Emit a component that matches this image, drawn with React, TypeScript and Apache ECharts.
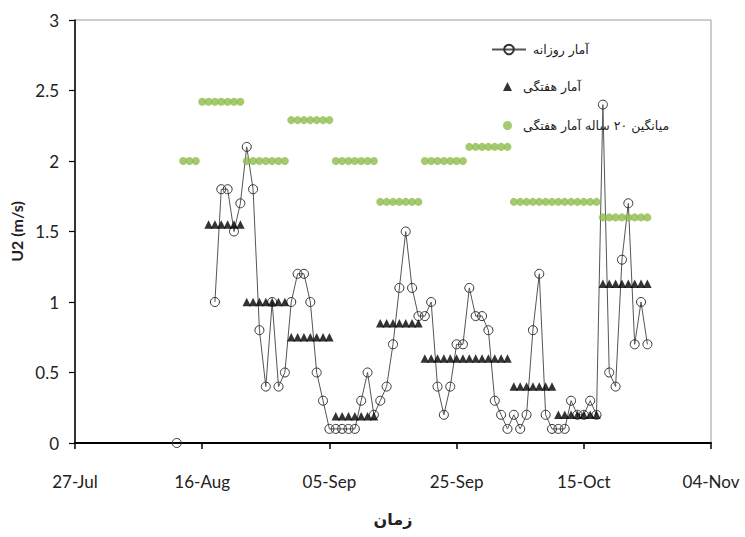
import React, { useEffect, useRef } from "react";
import * as echarts from "echarts";

// Calendar origin of the time axis (day 0 = 27 July)
const AXIS_ORIGIN = "2013-07-27";
const AXIS_SPAN_DAYS = 100;
const AXIS_STEP_DAYS = 20;

// Daily wind speed U2 (m/s), one value per day from dailyStart; null = no reading
const dailyStart = "2013-08-12";
const dailyU2 = [
  0, null, null, null, null, null,
  1.0, 1.8, 1.8, 1.5, 1.7, 2.1, 1.8, 0.8, 0.4, 1.0, 0.4, 0.5, 1.0, 1.2, 1.2, 1.0, 0.5, 0.3,
  0.1, 0.1, 0.1, 0.1, 0.1, 0.3, 0.5, 0.2, 0.3, 0.4, 0.7, 1.1, 1.5, 1.1, 0.9, 0.9, 1.0, 0.4,
  0.2, 0.4, 0.7, 0.7, 1.1, 0.9, 0.9, 0.8, 0.3, 0.2, 0.1, 0.2, 0.1, 0.2, 0.8, 1.2, 0.2, 0.1,
  0.1, 0.1, 0.3, 0.2, 0.2, 0.3, 0.2, 2.4, 0.5, 0.4, 1.3, 1.7, 0.7, 1.0, 0.7,
];

// Weekly statistics for the same season (first day, last day, value)
const weeklyFrom = ["2013-08-17", "2013-08-23", "2013-08-30", "2013-09-06", "2013-09-13", "2013-09-20", "2013-10-04", "2013-10-11", "2013-10-18"];
const weeklyTo = ["2013-08-22", "2013-08-29", "2013-09-05", "2013-09-12", "2013-09-19", "2013-10-03", "2013-10-10", "2013-10-17", "2013-10-25"];
const weeklyU2 = [1.55, 1.0, 0.75, 0.19, 0.85, 0.6, 0.4, 0.2, 1.13];

// 20-year mean of the weekly statistics
const meanFrom = ["2013-08-13", "2013-08-16", "2013-08-23", "2013-08-30", "2013-09-06", "2013-09-13", "2013-09-20", "2013-09-27", "2013-10-04", "2013-10-18"];
const meanTo = ["2013-08-15", "2013-08-22", "2013-08-29", "2013-09-05", "2013-09-12", "2013-09-19", "2013-09-26", "2013-10-03", "2013-10-17", "2013-10-25"];
const meanU2 = [2.0, 2.42, 2.0, 2.29, 2.0, 1.71, 2.0, 2.1, 1.71, 1.6];

const seriesNames = ["آمار روزانه", "آمار هفتگی", "میانگین ۲۰ ساله آمار هفتگی"];
const axisTitleX = "زمان";
const axisTitleY = "U2 (m/s)";
const monthNames = ["Jan", "Feb", "Mar", "Apr", "May", "Jun", "Jul", "Aug", "Sep", "Oct", "Nov", "Dec"];

const DAY_MS = 86400000;
const originMs = Date.parse(AXIS_ORIGIN + "T00:00:00Z");
const dayIndex = (iso: string) => Math.round((Date.parse(iso + "T00:00:00Z") - originMs) / DAY_MS);

const tickLabel = (day: number) => {
  const d = new Date(originMs + day * DAY_MS);
  const dd = String(d.getUTCDate()).padStart(2, "0");
  return `${dd}-${monthNames[d.getUTCMonth()]}`;
};

// one mark per day of each block
const expandBlocks = (from: string[], to: string[], vals: number[]) => {
  const out: [number, number][] = [];
  from.forEach((f, i) => {
    for (let d = dayIndex(f); d <= dayIndex(to[i]); d++) out.push([d, vals[i]]);
  });
  return out;
};

export default function App() {
  const ref = useRef<HTMLDivElement>(null);

  useEffect(() => {
    if (!ref.current) return;
    const chart = echarts.init(ref.current, null, { renderer: "svg" });
    const d0 = dayIndex(dailyStart);
    const dailyData = dailyU2.map((v, i) => [d0 + i, v === null ? "-" : v]);
    const weeklyData = expandBlocks(weeklyFrom, weeklyTo, weeklyU2);
    const meanData = expandBlocks(meanFrom, meanTo, meanU2);

    const labelFont = { fontFamily: "Lato", fontSize: 17, color: "#222" };
    const persianFont = { fontFamily: "DejaVu Sans", fontSize: 12.5, color: "#222" };

    chart.setOption({
      animation: false,
      backgroundColor: "#fff",
      grid: { left: 75, right: 34, top: 20, bottom: 94, show: true, borderColor: "#9a9a9a", borderWidth: 1 },
      legend: [
        { data: [seriesNames[0]], left: 486, top: 38, itemWidth: 34, itemHeight: 12, selectedMode: false, textStyle: { ...persianFont, padding: [0, 0, 0, 2] } },
        { data: [seriesNames[1]], left: 498, top: 75, itemWidth: 9, itemHeight: 9, selectedMode: false, textStyle: { ...persianFont, padding: [0, 0, 0, 6] } },
        { data: [seriesNames[2]], left: 498, top: 114, itemWidth: 9, itemHeight: 9, selectedMode: false, textStyle: { ...persianFont, padding: [0, 0, 0, 6] } },
      ],
      xAxis: {
        type: "value",
        min: 0,
        max: AXIS_SPAN_DAYS,
        interval: AXIS_STEP_DAYS,
        splitLine: { show: false },
        axisLine: { show: true, onZero: false, lineStyle: { color: "#000", width: 2 } },
        axisTick: { show: true, length: 6, lineStyle: { color: "#000", width: 1.5 } },
        axisLabel: { ...labelFont, margin: 30, formatter: (v: number) => tickLabel(v) },
        name: axisTitleX,
        nameLocation: "middle",
        nameGap: 68,
        nameTextStyle: { fontFamily: "DejaVu Sans", fontSize: 16, fontWeight: "bold", color: "#222" },
      },
      yAxis: {
        type: "value",
        min: 0,
        max: 3,
        interval: 0.5,
        splitLine: { show: false },
        axisLine: { show: true, lineStyle: { color: "#000", width: 1.5 } },
        axisTick: { show: true, length: 6, lineStyle: { color: "#000", width: 1.2 } },
        axisLabel: { ...labelFont, margin: 16 },
        name: axisTitleY,
        nameLocation: "middle",
        nameGap: 46,
        nameRotate: 90,
        nameTextStyle: { fontFamily: "Lato", fontSize: 16, fontWeight: "bold", color: "#222" },
      },
      series: [
        {
          name: seriesNames[0],
          type: "line",
          data: dailyData,
          connectNulls: false,
          clip: false,
          symbol: "circle",
          symbolSize: 9,
          showAllSymbol: true,
          itemStyle: { color: "rgba(255,255,255,0)", borderColor: "#333", borderWidth: 1 },
          lineStyle: { color: "#555", width: 1 },
          z: 2,
        },
        {
          name: seriesNames[1],
          type: "scatter",
          data: weeklyData,
          symbol: "triangle",
          symbolSize: 8.5,
          itemStyle: { color: "#000" },
          z: 3,
        },
        {
          name: seriesNames[2],
          type: "scatter",
          data: meanData,
          symbol: "circle",
          symbolSize: 8,
          itemStyle: { color: "#8fbb4b" },
          z: 3,
        },
      ],
    });
    return () => chart.dispose();
  }, []);

  return (
    <div
      ref={ref}
      style={{ position: "fixed", left: 0, top: 0, width: 745, height: 537, background: "#fff" }}
    />
  );
}
